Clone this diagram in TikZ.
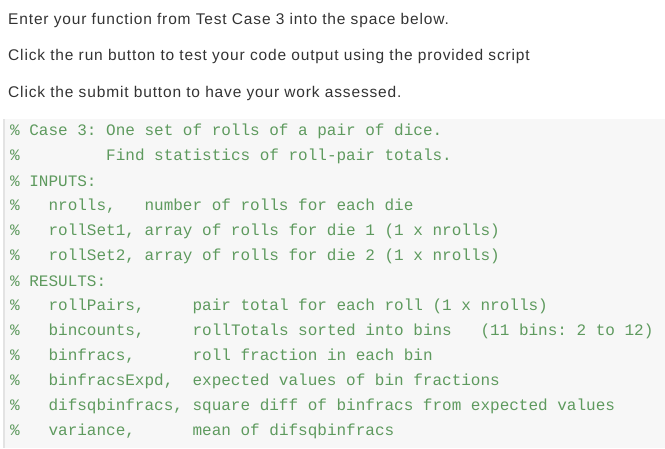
\documentclass[tikz,border=0pt]{standalone}
\usepackage{fontspec}
\setmainfont{Liberation Sans}[LetterSpace=5.5]
\setmonofont{Liberation Mono}
\definecolor{txt}{HTML}{333333}
\definecolor{cmt}{HTML}{5E9A5E}
\definecolor{codebg}{HTML}{F7F7F7}
\definecolor{codeborder}{HTML}{E3E3E3}
\tikzset{x=1pt,y=-1pt,
  para/.style={anchor=west,inner sep=0pt,font=\fontsize{15.5}{18}\selectfont,text=txt},
  code/.style={anchor=west,inner sep=0pt,font=\fontsize{16}{18}\ttfamily,text=cmt}}
\begin{document}
\begin{tikzpicture}
\useasboundingbox (0,0) rectangle (665,448);
\fill[codebg] (3,119) rectangle (665,448);
\fill[codeborder] (3,119) rectangle (5,448);
\node[para] (p1) at (8,20) {Enter your function from Test Case 3 into the space below.};
\node[para] (p2) at (8,56) {Click the run button to test your code output using the provided script};
\node[para] (p3) at (8,93) {Click the submit button to have your work assessed.};
\node[code] (c1) at (10,131) {\%~Case~3:~One~set~of~rolls~of~a~pair~of~dice.};
\node[code] (c2) at (10,156) {\%~~~~~~~~~Find~statistics~of~roll-pair~totals.};
\node[code] (c3) at (10,181) {\%~INPUTS:};
\node[code] (c4) at (10,206) {\%~~~nrolls,~~~number~of~rolls~for~each~die};
\node[code] (c5) at (10,231) {\%~~~rollSet1,~array~of~rolls~for~die~1~(1~x~nrolls)};
\node[code] (c6) at (10,256) {\%~~~rollSet2,~array~of~rolls~for~die~2~(1~x~nrolls)};
\node[code] (c7) at (10,281) {\%~RESULTS:};
\node[code] (c8) at (10,306) {\%~~~rollPairs,~~~~~pair~total~for~each~roll~(1~x~nrolls)};
\node[code] (c9) at (10,331) {\%~~~bincounts,~~~~~rollTotals~sorted~into~bins~~~(11~bins:~2~to~12)};
\node[code] (c10) at (10,356) {\%~~~binfracs,~~~~~~roll~fraction~in~each~bin};
\node[code] (c11) at (10,381) {\%~~~binfracsExpd,~~expected~values~of~bin~fractions};
\node[code] (c12) at (10,406) {\%~~~difsqbinfracs,~square~diff~of~binfracs~from~expected~values};
\node[code] (c13) at (10,431) {\%~~~variance,~~~~~~mean~of~difsqbinfracs};
\end{tikzpicture}
\end{document}
